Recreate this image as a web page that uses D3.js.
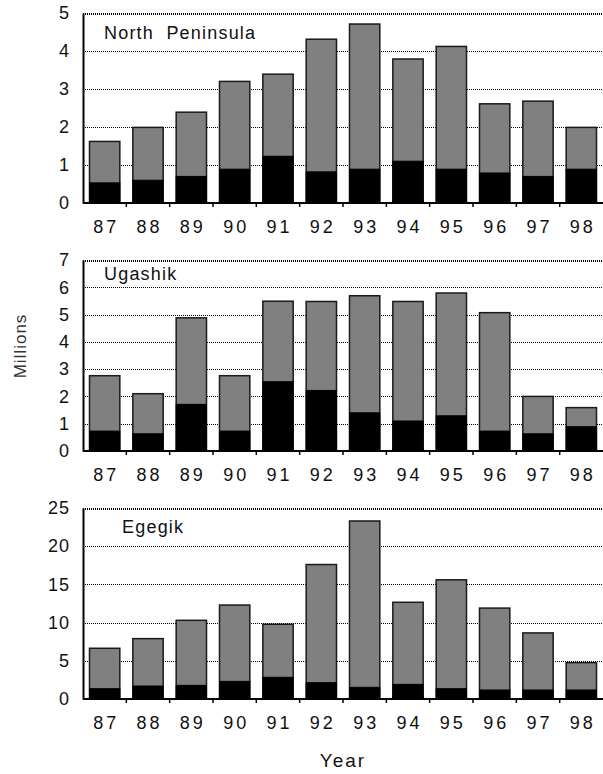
<!DOCTYPE html>
<html>
<head>
<meta charset="utf-8">
<script src="https://cdn.jsdelivr.net/npm/d3@7"></script>
<style>
  body { margin: 0; background: #fff; }
  text { font-family: "Liberation Sans", Arial, sans-serif; fill: #111; }
</style>
</head>
<body>
<div id="vis"></div>
<script>
// years on the x axis
const years = ['87', '88', '89', '90', '91', '92', '93', '94', '95', '96', '97', '98'];

// North Peninsula (millions): total bar height and black (bottom) part
const northTotal = [1.62, 1.99, 2.39, 3.2, 3.39, 4.31, 4.71, 3.79, 4.12, 2.61, 2.68, 1.99];
const northBlack = [0.53, 0.6, 0.7, 0.89, 1.23, 0.82, 0.89, 1.1, 0.89, 0.79, 0.7, 0.89];

// Ugashik
const ugashikTotal = [2.76, 2.1, 4.88, 2.76, 5.49, 5.48, 5.69, 5.48, 5.79, 5.07, 2.0, 1.59];
const ugashikBlack = [0.73, 0.63, 1.71, 0.73, 2.54, 2.22, 1.4, 1.1, 1.29, 0.73, 0.63, 0.89];

// Egegik
const egegikTotal = [6.64, 7.9, 10.3, 12.3, 9.78, 17.6, 23.3, 12.66, 15.6, 11.9, 8.65, 4.76];
const egegikBlack = [1.35, 1.7, 1.79, 2.31, 2.84, 2.14, 1.53, 1.92, 1.35, 1.18, 1.18, 1.18];

// y tick values of each panel
const northTicks = [0, 1, 2, 3, 4, 5];
const ugashikTicks = [0, 1, 2, 3, 4, 5, 6, 7];
const egegikTicks = [0, 5, 10, 15, 20, 25];

const W = 603, H = 774;
const left = 83, right = 603;

const svg = d3.select('#vis')
  .append('svg')
  .attr('width', W)
  .attr('height', H)
  .attr('viewBox', [0, 0, W, H].join(' '));

let x = d3.scaleBand()
  .domain(years)
  .range([left, right])
  .paddingInner(0.3)
  .paddingOuter(0.15);

// half of the gap between two bars, to put the x ticks between them
let halfGap = (x.step() - x.bandwidth()) / 2;

function panel(name, total, black, ticks, top, bottom, titleX, titleY) {
  let y = d3.scaleLinear()
    .domain([0, d3.max(ticks)])
    .range([bottom, top]);

  let g = svg.append('g');

  // dotted grid lines
  g.append('g')
    .selectAll('line')
    .data(ticks.slice(1))
    .join('line')
      .attr('x1', left)
      .attr('x2', right)
      .attr('y1', d => Math.round(y(d)) + 0.5)
      .attr('y2', d => Math.round(y(d)) + 0.5)
      .attr('stroke', '#000')
      .attr('stroke-width', (d, i) => i == ticks.length - 2 ? 2 : 1)
      .attr('stroke-dasharray', '1,1')
      .attr('shape-rendering', 'crispEdges');

  // gray total bars
  g.append('g')
    .selectAll('rect')
    .data(years)
    .join('rect')
      .attr('x', d => x(d))
      .attr('y', (d, i) => y(total[i]))
      .attr('width', x.bandwidth())
      .attr('height', (d, i) => y(0) - y(total[i]))
      .attr('fill', '#808080')
      .attr('stroke', '#1a1a1a')
      .attr('stroke-width', 1.5);

  // black bottom part
  g.append('g')
    .selectAll('rect')
    .data(years)
    .join('rect')
      .attr('x', d => x(d))
      .attr('y', (d, i) => y(black[i]))
      .attr('width', x.bandwidth())
      .attr('height', (d, i) => y(0) - y(black[i]))
      .attr('fill', '#000')
      .attr('stroke', '#000')
      .attr('stroke-width', 1);

  // y axis: line + labels
  let yAxis = g.append('g')
    .attr('transform', `translate(${left},0)`)
    .call(d3.axisLeft(y).tickValues(ticks).tickFormat(d3.format('d')).tickSize(0).tickPadding(13));
  yAxis.select('.domain').attr('stroke', '#000').attr('stroke-width', 2);
  yAxis.selectAll('text')
    .attr('font-size', 18)
    .attr('font-family', '"Liberation Sans", Arial, sans-serif')
    .attr('fill', '#111')
    .style('letter-spacing', '1px');

  // x axis: baseline, ticks between bars
  g.append('line')
    .attr('x1', left)
    .attr('x2', right)
    .attr('y1', bottom)
    .attr('y2', bottom)
    .attr('stroke', '#000')
    .attr('stroke-width', 2);

  g.append('g')
    .selectAll('line')
    .data(years.slice(1))
    .join('line')
      .attr('x1', d => x(d) - halfGap)
      .attr('x2', d => x(d) - halfGap)
      .attr('y1', bottom)
      .attr('y2', bottom + 4)
      .attr('stroke', '#000')
      .attr('stroke-width', 1.5);

  g.append('g')
    .selectAll('text')
    .data(years)
    .join('text')
      .attr('x', d => x(d) + x.bandwidth() / 2 + 1.5)
      .attr('y', bottom + 30)
      .attr('text-anchor', 'middle')
      .attr('font-size', 18)
      .style('letter-spacing', '3px')
      .text(d => d);

  // panel title
  g.append('text')
    .attr('x', titleX)
    .attr('y', titleY)
    .attr('font-size', 18)
    .style('letter-spacing', '1.2px')
    .style('white-space', 'pre')
    .text(name);
}

panel('North  Peninsula', northTotal, northBlack, northTicks, 13, 203, 104, 39);
panel('Ugashik', ugashikTotal, ugashikBlack, ugashikTicks, 260, 451, 104, 280);
panel('Egegik', egegikTotal, egegikBlack, egegikTicks, 508, 699, 122, 533);

// axis titles
svg.append('text')
  .attr('transform', `translate(26,${346}) rotate(-90)`)
  .attr('text-anchor', 'middle')
  .attr('font-size', 17)
  .style('fill', '#333')
  .style('letter-spacing', '1px')
  .text('Millions');

svg.append('text')
  .attr('x', (left + right) / 2)
  .attr('y', 767)
  .attr('text-anchor', 'middle')
  .attr('font-size', 19)
  .style('letter-spacing', '2px')
  .text('Year');
</script>
</body>
</html>
